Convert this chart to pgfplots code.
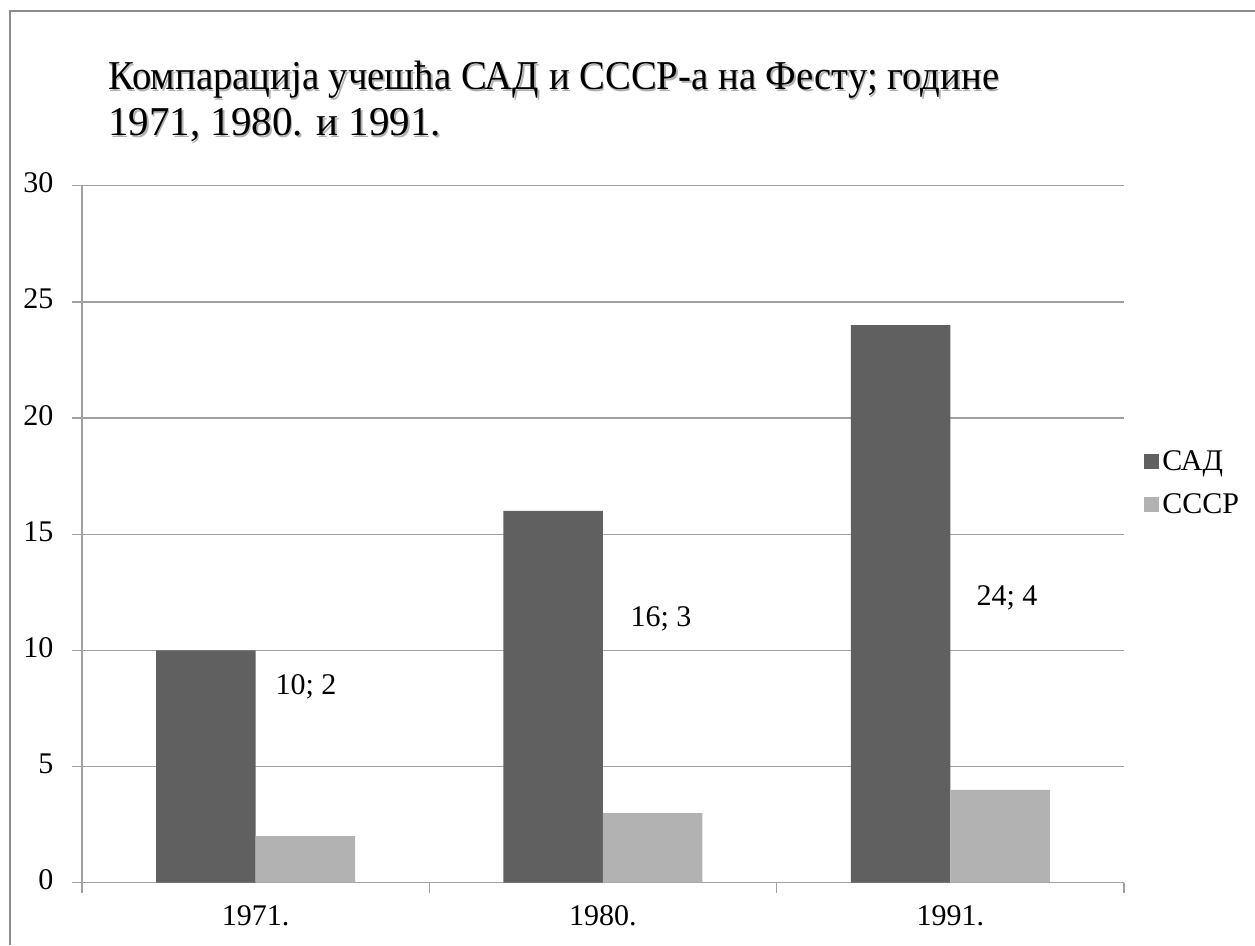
\documentclass[border=0pt]{standalone}
\usepackage{graphicx}
\usepackage{pgfplots}
\pgfplotsset{compat=1.18}
\usepackage{fontspec}
\setmainfont{Liberation Serif}
\definecolor{usa}{HTML}{606060}
\definecolor{ussr}{HTML}{B2B2B2}
\definecolor{axgray}{HTML}{A0A0A0}
\definecolor{framegray}{HTML}{8C8C8C}
\newcommand{\titletext}{\scalebox{0.945}[1]{Компарација учешћа САД и СССР-а на Фесту; године}\\1971, 1980. и 1991.}
\begin{document}
\begin{tikzpicture}
\useasboundingbox (0pt,0pt) rectangle (1255pt,945pt);
% outer frame (left and top edges visible)
\draw[framegray,line width=1.6pt] (10pt,0pt) -- (10pt,934pt) -- (1255pt,934pt);
% title with light shadow
\node[anchor=base west,align=left,inner sep=0pt,text=black!30,font=\fontsize{41}{46}\selectfont] at (109.5pt,807.5pt) {\titletext};
\node[anchor=base west,align=left,inner sep=0pt,font=\fontsize{41}{46}\selectfont] at (108pt,809pt) {\titletext};
\begin{axis}[
  at={(82pt,62.3pt)}, anchor=south west,
  width=1042pt, height=697pt, scale only axis,
  xmin=-0.5, xmax=2.5, ymin=0, ymax=30,
  axis x line=bottom, axis y line=left,
  axis line style={axgray, line width=1.3pt, -},
  ytick={0,5,10,15,20,25,30},
  ymajorgrids, grid style={axgray, line width=1.3pt},
  xtick={-0.5,0.5,1.5,2.5},
  xticklabels={},
  extra x ticks={0,1,2},
  extra x tick labels={1971.,1980.,1991.},
  extra x tick style={grid=none, major tick length=0pt},
  tick style={axgray, line width=1.3pt},
  major tick length=10pt,
  tick align=outside,
  typeset ticklabels with strut,
  ticklabel style={font=\fontsize{30}{35}\selectfont},
  yticklabel style={xshift=-15pt},
  xticklabel style={yshift=-15pt},
  /pgf/number format/assume math mode=true,
  ybar, bar width=99.5pt,
  legend style={at={(1.0165,0.5735)}, anchor=west, draw=none, fill=none,
    font=\fontsize{30}{35}\selectfont, row sep=18pt,
    nodes={inner xsep=3pt, inner ysep=2pt}},
  legend cell align=left,
  legend image code/.code={\fill[#1] (0pt,-7.5pt) rectangle (15pt,7.5pt);},
]
\addplot[fill=usa, draw=none, bar shift=-49.75pt] coordinates {(0,10) (1,16) (2,24)};
\addplot[fill=ussr, draw=none, bar shift=49.75pt] coordinates {(0,2) (1,3) (2,4)};
\legend{САД,СССР}
\node[anchor=base, font=\fontsize{30}{35}\selectfont] at (axis cs:0.145,8.08) {10; 2};
\node[anchor=base, font=\fontsize{30}{35}\selectfont] at (axis cs:1.167,11.01) {16; 3};
\node[anchor=base, font=\fontsize{30}{35}\selectfont] at (axis cs:2.163,11.91) {24; 4};
\end{axis}
\end{tikzpicture}
\end{document}
